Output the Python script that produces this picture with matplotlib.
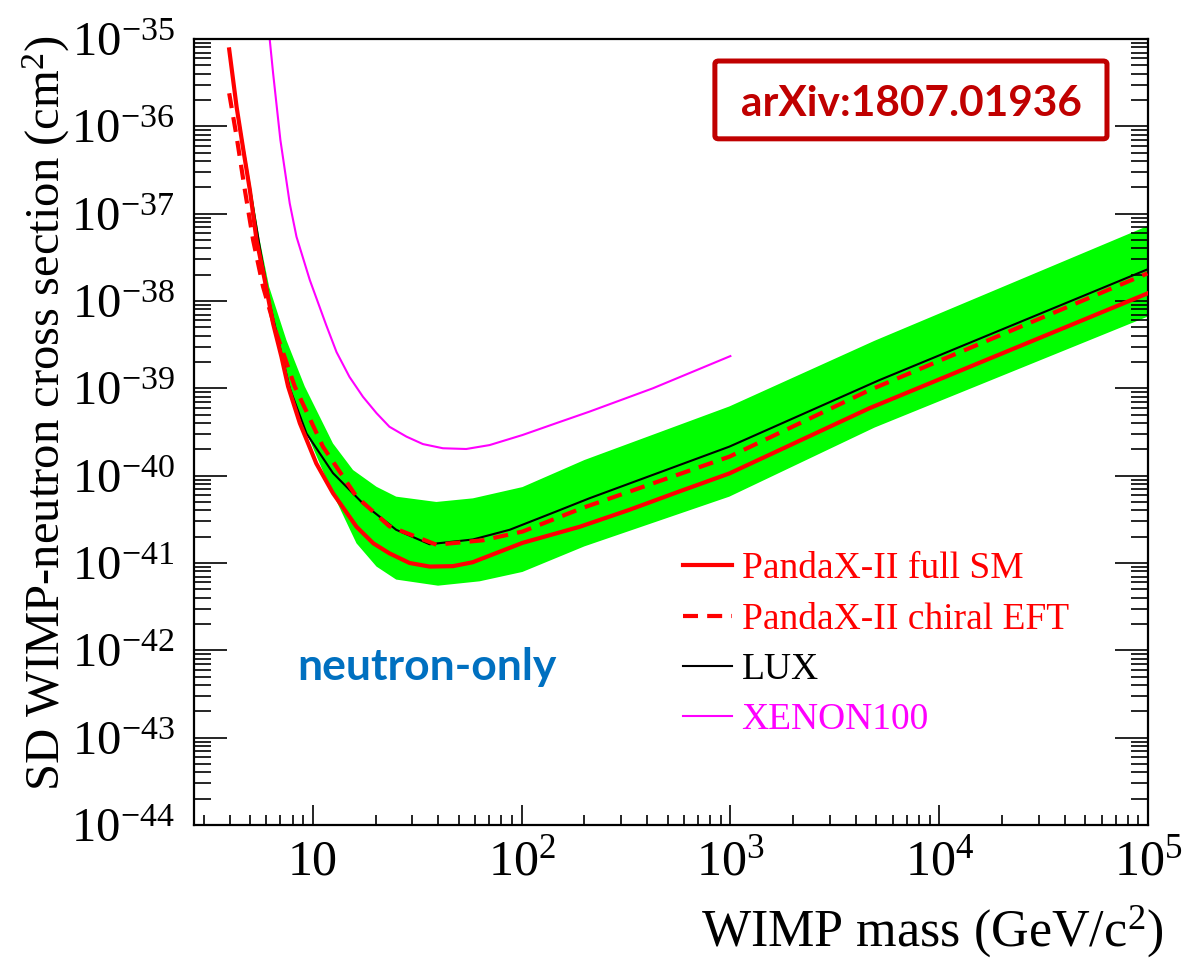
import matplotlib
matplotlib.use('Agg')
import matplotlib.pyplot as plt
import numpy as np
from matplotlib.patches import FancyBboxPatch
from matplotlib.ticker import LogLocator, FuncFormatter, NullFormatter

plt.rcParams['font.family'] = ['Liberation Serif', 'DejaVu Serif']
plt.rcParams['mathtext.fontset'] = 'custom'
plt.rcParams['mathtext.rm'] = 'Liberation Serif'
plt.rcParams['mathtext.it'] = 'Liberation Serif:italic'

# PandaX-II full SM (GeV/c^2, cm^2)
full_mass = [3.98, 4.32, 4.65, 5.0, 5.38, 5.89, 6.46, 7.08, 7.62, 8.67, 10.4, 12.5, 16.2,
             19.5, 23.3, 29.1, 36.3, 46.9, 58.3, 101, 190, 329, 570, 989, 4620, 16700,
             99300]
full_xs = [7.6e-36, 1.66e-36, 5.4e-37, 1.86e-37, 5.0e-38, 1.74e-38, 5.5e-39, 2.3e-39,
           1.05e-39, 4.0e-40, 1.38e-40, 6.3e-41, 2.6e-41, 1.68e-41, 1.29e-41, 1.0e-41,
           9.1e-42, 9.2e-42, 1.02e-41, 1.7e-41, 2.6e-41, 4.07e-41, 6.6e-41, 1.06e-40,
           5.9e-40, 2.1e-39, 1.22e-38]

# PandaX-II chiral EFT
eft_mass = [3.98, 4.32, 4.73, 5.18, 5.78, 6.70, 8.20, 11.2, 16.2, 23.3, 39.1, 65.3, 101,
            196, 989, 4620, 99300]
eft_xs = [2.39e-36, 7.6e-37, 1.87e-37, 5.0e-38, 1.46e-38, 4.27e-39, 1.05e-39, 2.14e-40,
          5.75e-41, 2.63e-41, 1.62e-41, 1.82e-41, 2.29e-41, 4.27e-41, 1.65e-40, 9.5e-40,
          2.07e-38]

# LUX
lux_mass = [5.0, 5.57, 6.22, 6.95, 7.76, 9.33, 12.5, 17.4, 25.1, 36.3, 58.5, 87.7, 147,
            211, 989, 5160, 99300]
lux_xs = [1.95e-37, 4.2e-38, 9.4e-39, 3.0e-39, 1.0e-39, 3.05e-40, 1.07e-40, 4.8e-41,
          2.4e-41, 1.64e-41, 1.86e-41, 2.4e-41, 3.9e-41, 5.5e-41, 2.15e-40, 1.24e-39,
          2.3e-38]

# XENON100
xe_mass = [6.22, 6.46, 7.0, 7.76, 8.36, 9.68, 11.6, 13.0, 15.0, 17.4, 20.2, 23.3, 28.1,
           33.7, 42.0, 54.3, 70.3, 101, 147, 211, 425, 1000]
xe_xs = [1.0e-35, 4.05e-36, 6.97e-37, 1.31e-37, 5.44e-38, 1.74e-38, 5.3e-39, 2.6e-39,
         1.35e-39, 8.0e-40, 5.2e-40, 3.63e-40, 2.8e-40, 2.3e-40, 2.06e-40, 2.02e-40,
         2.24e-40, 2.92e-40, 4.0e-40, 5.4e-40, 1.0e-39, 2.34e-39]

# sensitivity band (upper / lower edges)
band_up_mass = [4.32, 5.09, 5.57, 6.18, 7.48, 9.16, 12.5, 15.6, 20.2, 25.1, 39.1, 58.5,
                101, 200, 989, 4900, 99300]
band_up_xs = [2.0e-36, 1.87e-37, 5.0e-38, 1.46e-38, 3.57e-39, 1.05e-39, 2.34e-40,
              1.16e-40, 7.46e-41, 5.75e-41, 5.0e-41, 5.5e-41, 7.4e-41, 1.51e-40, 6.2e-40,
              3.5e-39, 7.2e-38]
band_lo_mass = [4.32, 4.68, 5.04, 5.43, 5.96, 6.53, 7.16, 7.76, 9.12, 12.05, 16.2, 20.2,
                25.1, 39.8, 63.0, 101, 200, 989, 4900, 99300]
band_lo_xs = [2.0e-36, 5.4e-37, 1.86e-37, 5.0e-38, 1.74e-38, 5.5e-39, 2.3e-39, 1.0e-39,
              3.55e-40, 7.46e-41, 1.68e-41, 9.1e-42, 6.46e-42, 5.5e-42, 6.17e-42, 7.9e-42,
              1.55e-41, 5.75e-41, 3.55e-40, 6.6e-39]

fig = plt.figure(figsize=(11.83, 9.60), dpi=100)
ax = fig.add_axes([194 / 1183, 1 - 825 / 960, 954 / 1183, 786 / 960])
ax.set_xscale('log')
ax.set_yscale('log')

ax.fill(np.concatenate([band_up_mass, band_lo_mass[::-1]]),
        np.concatenate([band_up_xs, band_lo_xs[::-1]]),
        color='#00ff00', lw=0, zorder=1)
ax.plot(xe_mass, xe_xs, color='#ff00ff', lw=1.5, label='XENON100', zorder=2)
ax.plot(lux_mass, lux_xs, color='black', lw=1.5, label='LUX', zorder=3)
ax.plot(eft_mass, eft_xs, color='#ff0000', lw=3, dashes=(3.6, 2.2),
        label='PandaX-II chiral EFT', zorder=4)
ax.plot(full_mass, full_xs, color='#ff0000', lw=3, label='PandaX-II full SM', zorder=5)

ax.set_xlim(2.7, 1e5)
ax.set_ylim(1e-44, 1e-35)


def pow_fmt(v, pos):
    n = int(round(np.log10(v)))
    if n == 1:
        return '10'
    return r'$10^{%d}$' % n


ax.xaxis.set_major_locator(LogLocator(base=10, numticks=20))
ax.xaxis.set_minor_locator(LogLocator(base=10, subs=np.arange(2, 10), numticks=20))
ax.yaxis.set_major_locator(LogLocator(base=10, numticks=20))
ax.yaxis.set_minor_locator(LogLocator(base=10, subs=np.arange(2, 10), numticks=20))
ax.xaxis.set_major_formatter(FuncFormatter(pow_fmt))
ax.yaxis.set_major_formatter(FuncFormatter(pow_fmt))
ax.xaxis.set_minor_formatter(NullFormatter())
ax.yaxis.set_minor_formatter(NullFormatter())

ax.tick_params(axis='both', which='both', direction='in', width=1.2, colors='black')
ax.tick_params(axis='y', which='both', right=True)
ax.tick_params(axis='y', which='major', length=24, pad=14, labelsize=35)
ax.tick_params(axis='y', which='minor', length=12)
ax.tick_params(axis='x', which='major', length=14.5, pad=10, labelsize=36)
ax.tick_params(axis='x', which='minor', length=7.5)
for s in ax.spines.values():
    s.set_linewidth(1.6)

ax.set_xlabel(r'WIMP mass (GeV/c$^{2}$)', fontsize=37.5, loc='right')
ax.xaxis.set_label_coords(1.016, -0.1)
ax.set_ylabel(r'SD WIMP-neutron cross section (cm$^{2}$)', fontsize=35, loc='top')
ax.yaxis.set_label_coords(-0.128, 1.005)

handles, labels = ax.get_legend_handles_labels()
order = [3, 2, 1, 0]
leg = ax.legend([handles[i] for i in order], [labels[i] for i in order],
                loc='upper left', bbox_to_anchor=(683 / 1183, 1 - 552 / 960),
                bbox_transform=fig.transFigure, frameon=False, fontsize=27,
                handlelength=1.3, handletextpad=0.26, labelspacing=0.42,
                borderpad=0, borderaxespad=0, labelcolor='linecolor')

ax.text(0.244, 0.1845, 'neutron-only', transform=ax.transAxes, ha='center',
        va='baseline', color='#0070c0', fontsize=32, fontweight='bold',
        family=['Lato', 'DejaVu Sans'])

box = FancyBboxPatch((0.546, 0.873), 0.411, 0.099, transform=ax.transAxes,
                     boxstyle='round,pad=0,rounding_size=0.004',
                     fc='white', ec='#c00000', lw=3.6, zorder=6)
ax.add_patch(box)
ax.text(0.7516, 0.902, 'arXiv:1807.01936', transform=ax.transAxes, ha='center',
        va='baseline', color='#c00000', fontsize=30.5, fontweight='bold',
        family=['Lato', 'DejaVu Sans'], zorder=7)

fig.savefig('out.png', dpi=100)
